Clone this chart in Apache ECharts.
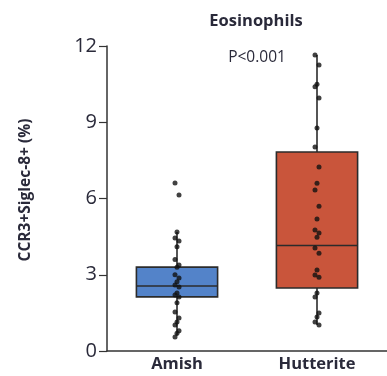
<!DOCTYPE html>
<html>
<head>
<meta charset="utf-8">
<script src="https://cdn.jsdelivr.net/npm/echarts@6/dist/echarts.min.js"></script>
<style>
  html, body { margin: 0; padding: 0; background: #fff; }
  #chart { width: 387px; height: 376px; }
</style>
</head>
<body>
<div id="chart"></div>
<script>
// Groups and tick labels
const groups = ['Amish', 'Hutterite'];
const yTicks = [0, 3, 6, 9, 12];

// Box summaries per group: [lower whisker, Q1, median, Q3, upper whisker]
const amishBox = [0.6, 2.13, 2.56, 3.3, 4.68];
const hutteriteBox = [1.02, 2.48, 4.15, 7.83, 11.65];

// Individual measurements (%)
const amishPoints = [6.61, 6.14, 4.68, 4.45, 4.33, 4.1, 3.6, 3.38, 3.3, 3.0, 2.87, 2.72,
  2.6, 2.52, 2.28, 2.2, 2.12, 1.9, 1.53, 1.3, 1.14, 1.02, 0.8, 0.7, 0.55];
const hutteritePoints = [11.65, 11.25, 10.5, 10.4, 9.95, 8.77, 8.03, 7.24, 6.6, 6.33, 5.7,
  5.19, 4.76, 4.64, 4.48, 4.05, 3.85, 3.19, 2.99, 2.9, 2.28, 2.12, 1.5, 1.34, 1.14, 1.02];

const boxColors = ['#5383c9', '#c9553b'];
const boxes = [amishBox, hutteriteBox];
const textColor = '#2a2a3a';
const font = 'Open Sans';

const chart = echarts.init(document.getElementById('chart'));

const scatterData = [];
[amishPoints, hutteritePoints].forEach((pts, g) => {
  pts.forEach((v, i) => {
    scatterData.push({
      value: [g, v],
      symbolOffset: [(i % 3 === 0 ? -2 : (i % 3 === 1 ? 2 : 0)), 0]
    });
  });
});

chart.setOption({
  animation: false,
  title: [
    {
      text: 'Eosinophils', left: 251, top: 8, textAlign: 'center',
      textStyle: { fontFamily: font, fontSize: 16.5, fontWeight: 'bold', color: textColor }
    },
    {
      text: 'P<0.001', left: 252, top: 45, textAlign: 'center',
      textStyle: { fontFamily: font, fontSize: 15.5, fontWeight: 'normal', color: textColor }
    }
  ],
  graphic: [{
    type: 'text',
    x: 26, y: 190,
    rotation: Math.PI / 2,
    style: {
      text: 'CCR3+Siglec-8+ (%)',
      fontFamily: font, fontSize: 15.5, fontWeight: 'bold', fill: textColor,
      align: 'center', verticalAlign: 'middle'
    }
  }],
  grid: { left: 107, right: 0, top: 46, bottom: 25, containLabel: false },
  xAxis: {
    type: 'category',
    data: groups,
    axisLine: { lineStyle: { color: '#333', width: 1.5 } },
    axisTick: { show: false },
    axisLabel: { fontFamily: font, fontSize: 16.5, fontWeight: 'bold', color: textColor, margin: 5 }
  },
  yAxis: {
    type: 'value',
    min: 0, max: 12, interval: 3,
    splitLine: { show: false },
    axisLine: { show: true, lineStyle: { color: '#333', width: 1.5 } },
    axisTick: { show: true, length: 8, lineStyle: { color: '#333', width: 1.2 } },
    axisLabel: {
      fontFamily: font, fontSize: 20, color: textColor, margin: 10,
      formatter: v => yTicks.includes(v) ? String(v) : ''
    }
  },
  series: [
    {
      type: 'custom',
      data: boxes.map((b, g) => [g].concat(b)),
      z: 2,
      renderItem: function (params, api) {
        const g = api.value(0);
        const lo = api.coord([g, api.value(1)]);
        const q1 = api.coord([g, api.value(2)]);
        const med = api.coord([g, api.value(3)]);
        const q3 = api.coord([g, api.value(4)]);
        const hi = api.coord([g, api.value(5)]);
        const w = api.size([1, 0])[0] * 0.58;
        const cx = lo[0];
        const stroke = { stroke: '#2b2b2b', lineWidth: 1.6 };
        return {
          type: 'group',
          children: [
            { type: 'line', shape: { x1: cx, y1: lo[1], x2: cx, y2: q1[1] }, style: stroke },
            { type: 'line', shape: { x1: cx, y1: q3[1], x2: cx, y2: hi[1] }, style: stroke },
            {
              type: 'rect',
              shape: { x: cx - w / 2, y: q3[1], width: w, height: q1[1] - q3[1] },
              style: { fill: boxColors[g], stroke: '#2b2b2b', lineWidth: 1.6 }
            },
            { type: 'line', shape: { x1: cx - w / 2, y1: med[1], x2: cx + w / 2, y2: med[1] }, style: stroke }
          ]
        };
      }
    },
    {
      type: 'scatter',
      data: scatterData,
      symbolSize: 5,
      itemStyle: { color: '#111' },
      z: 5
    }
  ]
});
</script>
</body>
</html>
